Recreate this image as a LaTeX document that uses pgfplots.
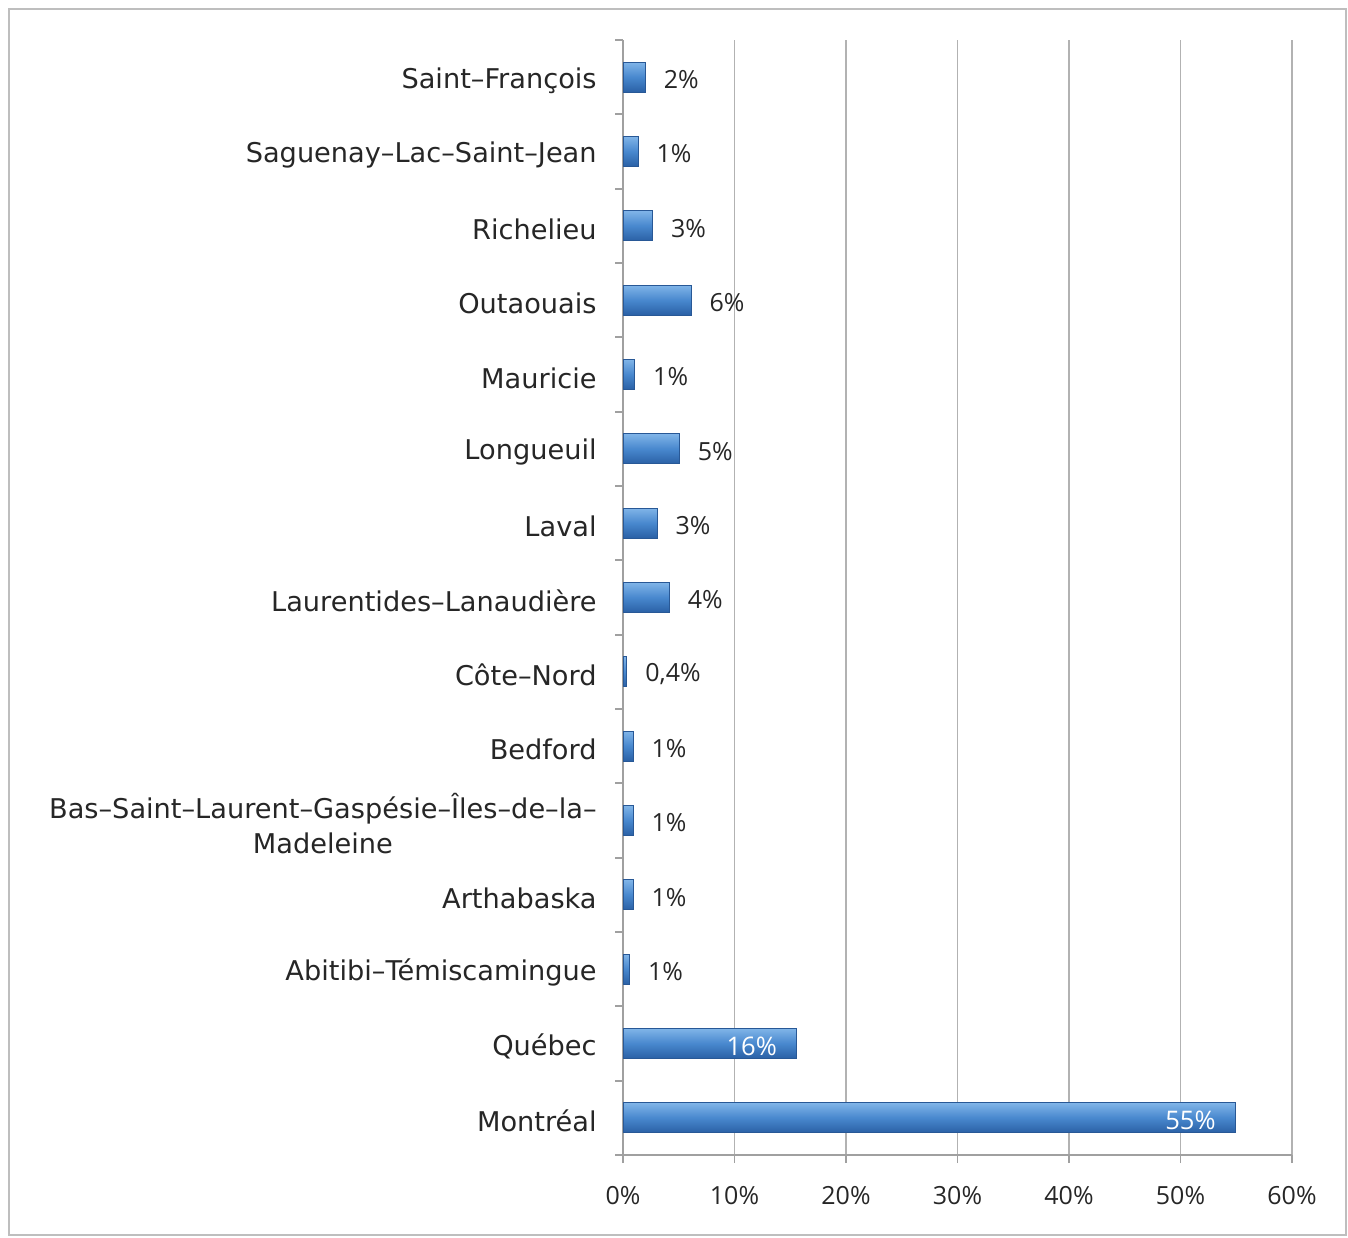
\documentclass[border=0pt]{standalone}
\usepackage{pgfplots}
\pgfplotsset{compat=1.18}
\usepackage{fontspec}
\setmainfont{DejaVu Sans}
\newfontfamily\numfont{Open Sans}
\definecolor{gridc}{RGB}{178,178,178}
\definecolor{axislc}{RGB}{160,160,160}
\definecolor{framec}{RGB}{190,190,190}
\definecolor{barlight}{RGB}{128,180,232}
\definecolor{barmid}{RGB}{72,136,206}
\definecolor{bardark}{RGB}{42,96,165}
\definecolor{bardraw}{RGB}{40,88,150}
\pgfplotsset{
  barbase/.style={xbar, bar width=15pt, bar shift=0pt, draw=bardraw, line width=0.5pt,
    top color=barlight, bottom color=bardark, middle color=barmid,
    point meta=explicit symbolic, nodes near coords},
  mybar/.style={barbase,
    nodes near coords style={anchor=west, inner sep=0pt, xshift=9pt, yshift=-1.2pt,
      font=\numfont\fontsize{12.5}{14}\selectfont, text=black!85}},
  mybarin/.style={barbase,
    nodes near coords style={anchor=east, inner sep=0pt, xshift=-9.5pt, yshift=-1.2pt,
      font=\numfont\fontsize{12.8}{14}\selectfont, text=white}},
}
\begin{document}
\begin{tikzpicture}
\useasboundingbox (0,0) rectangle (674pt,618.5pt);
\draw[framec, line width=1.3pt] (4.5pt,1pt) rectangle (673pt,614pt);
\begin{axis}[
  at={(311.5pt,41pt)}, anchor=south west,
  scale only axis, width=334.5pt, height=557.5pt,
  xmin=0, xmax=60, ymin=-0.5, ymax=14.5,
  axis x line*=bottom, axis y line*=left,
  axis line style={axislc, line width=1pt, -},
  xtick={0,10,...,60},
  xticklabels={0\%,10\%,20\%,30\%,40\%,50\%,60\%},
  xmajorgrids, grid style={gridc, line width=0.9pt},
  ytick={-0.5,0.5,...,14.5},
  yticklabels={Montréal,Québec,Abitibi–Témiscamingue,Arthabaska,{Bas–Saint–Laurent–Gaspésie–Îles–de–la–\\Madeleine},Bedford,Côte–Nord,Laurentides–Lanaudière,Laval,Longueuil,Mauricie,Outaouais,Richelieu,Saguenay–Lac–Saint–Jean,Saint–François,{}},
  yticklabel style={align=center, font=\fontsize{13.6}{17.5}\selectfont, yshift=16.9pt, inner xsep=0pt, xshift=-9pt, text=black!85},
  xticklabel style={font=\numfont\fontsize{12.5}{14}\selectfont, yshift=-8pt, text=black!85},
  tick align=outside, major tick length=4pt,
  tick style={axislc, line width=0.9pt},
  clip=false,
]
\addplot[mybarin] coordinates {(54.9,0) [55\%]};
\addplot[mybarin] coordinates {(15.55,1) [16\%]};
\addplot[mybar] coordinates {(0.6,2) [1\%]};
\addplot[mybar] coordinates {(0.9,3) [1\%]};
\addplot[mybar] coordinates {(0.9,4) [1\%]};
\addplot[mybar] coordinates {(0.9,5) [1\%]};
\addplot[mybar] coordinates {(0.35,6) [0,4\%]};
\addplot[mybar] coordinates {(4.15,7) [4\%]};
\addplot[mybar] coordinates {(3.05,8) [3\%]};
\addplot[mybar] coordinates {(5.05,9) [5\%]};
\addplot[mybar] coordinates {(1.05,10) [1\%]};
\addplot[mybar] coordinates {(6.1,11) [6\%]};
\addplot[mybar] coordinates {(2.65,12) [3\%]};
\addplot[mybar] coordinates {(1.35,13) [1\%]};
\addplot[mybar] coordinates {(2.0,14) [2\%]};
\end{axis}
\end{tikzpicture}
\end{document}
